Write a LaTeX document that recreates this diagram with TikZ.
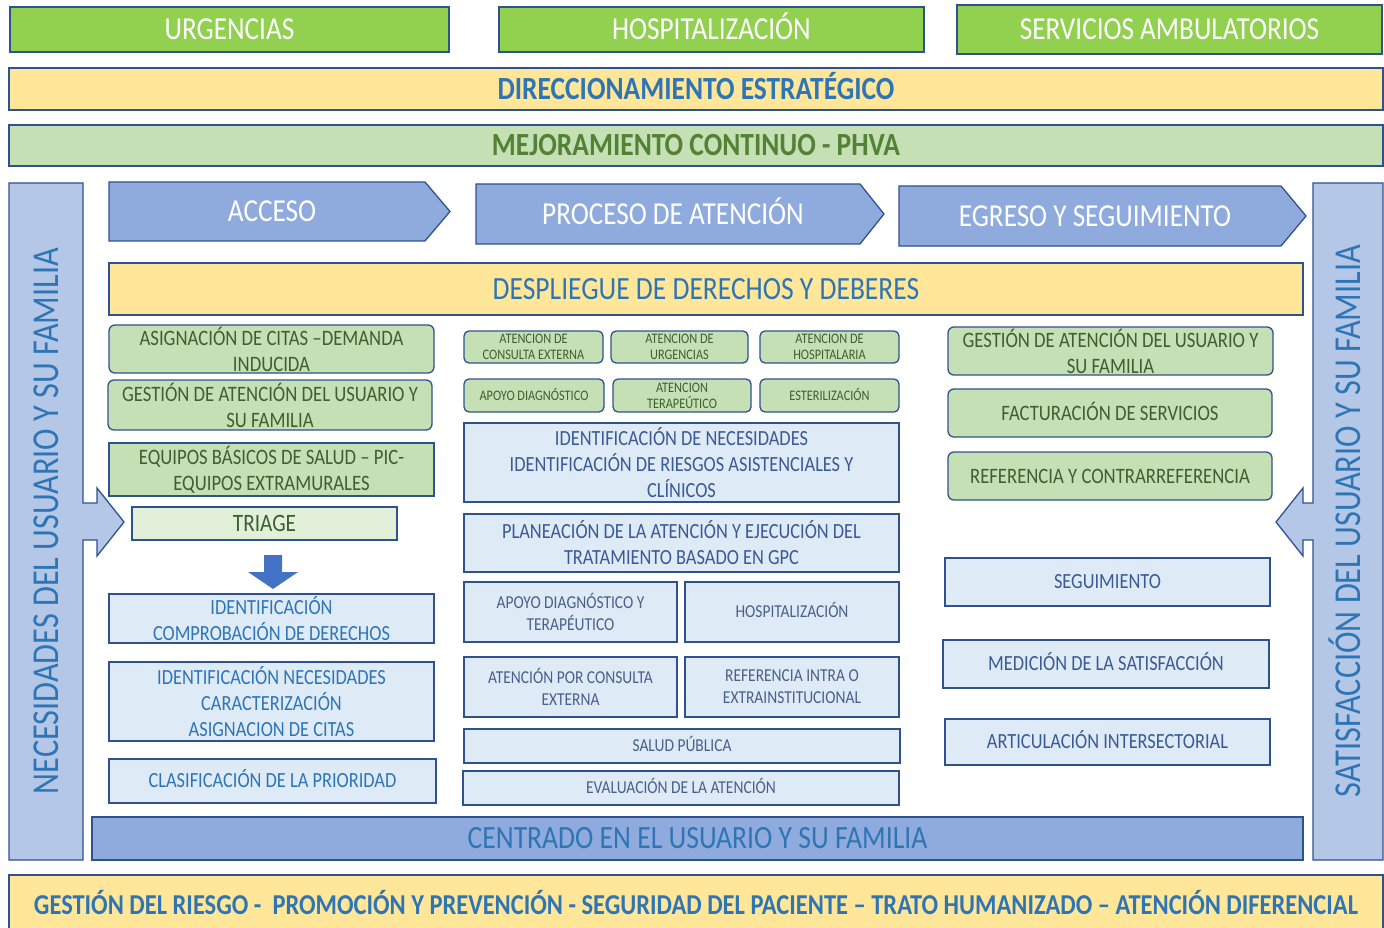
\documentclass[tikz,border=0pt]{standalone}
\usepackage{fontspec}
\setmainfont{Carlito}[FakeStretch=0.85]
\definecolor{verdefuerte}{HTML}{92D050}
\definecolor{verdesuave}{HTML}{C5E0B4}
\definecolor{verdepalido}{HTML}{E2F0D9}
\definecolor{amarillo}{HTML}{FFE699}
\definecolor{azulflecha}{HTML}{8FAADC}
\definecolor{azullateral}{HTML}{B4C7E7}
\definecolor{azulpalido}{HTML}{DEEBF7}
\definecolor{azulfuerte}{HTML}{4472C4}
\definecolor{borde}{HTML}{2F528F}
\definecolor{txtazul}{HTML}{2E75B6}
\definecolor{txtazuloscuro}{HTML}{3B5A94}
\definecolor{txtgris}{HTML}{4A5F8A}
\definecolor{txtverde}{HTML}{538135}
\definecolor{txtoliva}{HTML}{3F5F2F}
\tikzset{
  caja/.style={draw=borde, line width=1.3pt, inner sep=1pt, align=center},
  linea/.style={text height=#1, text depth=0pt},
  servicio/.style={caja, linea=20.6pt, fill=verdefuerte, text=white, font=\fontsize{32}{36}\selectfont},
  franja/.style={caja, linea=20.8pt, font=\bfseries\fontsize{32.3}{36}\selectfont},
  chevron/.style={draw=borde, line width=1.3pt, fill=azulflecha},
  txtchevron/.style={linea=20.6pt, text=white, font=\fontsize{32}{36}\selectfont},
  lateral/.style={draw=borde, line width=1.3pt, fill=azullateral},
  txtlateral/.style={linea=24.5pt, text=txtazul, rotate=90, font=\fontsize{38}{42}\selectfont},
  cajaverde/.style={caja, fill=verdesuave, text=txtoliva, rounded corners=6pt, font=\fontsize{22}{26}\selectfont},
  cajaazul/.style={caja, fill=azulpalido, text=txtazul, font=\fontsize{21.6}{26}\selectfont},
  cajamedia/.style={caja, fill=azulpalido, text=txtazuloscuro, font=\fontsize{21.6}{26}\selectfont},
  cajachica/.style={caja, fill=azulpalido, text=txtgris, font=\fontsize{18.2}{22}\selectfont},
  mini/.style={caja, fill=verdesuave, text=txtoliva, rounded corners=5pt, font=\fontsize{14.5}{16}\selectfont},
}
\begin{document}
\begin{tikzpicture}[x=1pt, y=-1pt]
    \useasboundingbox (0,0) rectangle (1384,928);
    % Servicios
    \node[servicio, minimum width=439, minimum height=45] (urgencias) at (229.5,29.5) {URGENCIAS};
    \node[servicio, minimum width=425, minimum height=45] (hospitalizacion) at (711.5,29.5) {HOSPITALIZACIÓN};
    \node[servicio, minimum width=425, minimum height=49] (ambulatorios) at (1169.5,29.5) {SERVICIOS AMBULATORIOS};
    % Franjas
    \node[franja, fill=amarillo, text=txtazul, minimum width=1374, minimum height=42] (direccion) at (696,89) {DIRECCIONAMIENTO ESTRATÉGICO};
    \node[franja, fill=verdesuave, text=txtverde, minimum width=1374, minimum height=41] (mejora) at (696,145.5) {MEJORAMIENTO CONTINUO - PHVA};
    % Laterales
    \draw[lateral] (9,183) -- (83,183) -- (83,503) -- (97,503) -- (97,488) -- (124,522) -- (97,556) -- (97,540) -- (83,540) -- (83,860) -- (9,860) -- cycle;
    \node[txtlateral] (necesidades) at (46,521) {NECESIDADES DEL USUARIO Y SU FAMILIA};
    \draw[lateral] (1313,183) -- (1383,183) -- (1383,860) -- (1313,860) -- (1313,540) -- (1303,540) -- (1303,556) -- (1276,522) -- (1303,488) -- (1303,503) -- (1313,503) -- cycle;
    \node[txtlateral] (satisfaccion) at (1348,521) {SATISFACCIÓN DEL USUARIO Y SU FAMILIA};
    % Etapas
    \draw[chevron] (109,182) -- (425,182) -- (450,211.5) -- (425,241) -- (109,241) -- cycle;
    \node[txtchevron] (acceso) at (272,211.5) {ACCESO};
    \draw[chevron] (476,184) -- (860,184) -- (884,214) -- (860,244) -- (476,244) -- cycle;
    \node[txtchevron] (proceso) at (673,214) {PROCESO DE ATENCIÓN};
    \draw[chevron] (899,186) -- (1281,186) -- (1306,216) -- (1281,246) -- (899,246) -- cycle;
    \node[txtchevron] (egreso) at (1095,216) {EGRESO Y SEGUIMIENTO};
    % Derechos
    \node[caja, linea=20.9pt, fill=amarillo, text=txtazul, font=\fontsize{32.4}{36}\selectfont, minimum width=1194, minimum height=52] (despliegue) at (706,289) {DESPLIEGUE DE DERECHOS Y DEBERES};
    % Acceso
    \node[cajaverde, minimum width=325, minimum height=48] (asignacion) at (271.5,349) {ASIGNACIÓN DE CITAS –DEMANDA\\INDUCIDA};
    \node[cajaverde, minimum width=324, minimum height=50] (gestionA) at (270,405) {GESTIÓN DE ATENCIÓN DEL USUARIO Y\\SU FAMILIA};
    \node[cajaverde, rounded corners=0pt, minimum width=325, minimum height=53] (equipos) at (271.5,469.5) {EQUIPOS BÁSICOS DE SALUD – PIC-\\EQUIPOS EXTRAMURALES};
    \node[caja, linea=16.1pt, fill=verdepalido, text=txtoliva, font=\fontsize{25}{30}\selectfont, minimum width=265, minimum height=33] (triage) at (264.5,523.5) {TRIAGE};
    \fill[azulfuerte] (264,555) -- (282,555) -- (282,572) -- (298,572) -- (273,589) -- (248,572) -- (264,572) -- cycle;
    \node[cajaazul, minimum width=325, minimum height=49] (identificacion) at (271.5,618.5) {IDENTIFICACIÓN\\COMPROBACIÓN DE DERECHOS};
    \node[cajaazul, minimum width=325, minimum height=79] (caracterizacion) at (271.5,701.5) {IDENTIFICACIÓN NECESIDADES\\CARACTERIZACIÓN\\ASIGNACION DE CITAS};
    \node[cajaazul, linea=13.9pt, minimum width=327, minimum height=44] (prioridad) at (272.5,781) {CLASIFICACIÓN DE LA PRIORIDAD};
    % Proceso de atencion
    \node[mini, minimum width=139, minimum height=32] (atConsulta) at (533.5,347) {ATENCION DE\\CONSULTA EXTERNA};
    \node[mini, minimum width=137, minimum height=32] (atUrgencias) at (679.5,347) {ATENCION DE\\URGENCIAS};
    \node[mini, minimum width=139, minimum height=32] (atHospital) at (829.5,347) {ATENCION DE\\HOSPITALARIA};
    \node[mini, linea=9.3pt, minimum width=140, minimum height=33] (apDiag) at (534,395.5) {APOYO DIAGNÓSTICO};
    \node[mini, minimum width=138, minimum height=33] (atTerap) at (682,395.5) {ATENCION\\TERAPEÚTICO};
    \node[mini, linea=9.3pt, minimum width=139, minimum height=33] (esteril) at (829.5,395.5) {ESTERILIZACIÓN};
    \node[cajamedia, minimum width=435, minimum height=79] (riesgos) at (681.5,462.5) {IDENTIFICACIÓN DE NECESIDADES\\IDENTIFICACIÓN DE RIESGOS ASISTENCIALES Y\\CLÍNICOS};
    \node[cajamedia, minimum width=435, minimum height=58] (planeacion) at (681.5,543) {PLANEACIÓN DE LA ATENCIÓN Y EJECUCIÓN DEL\\TRATAMIENTO BASADO EN GPC};
    \node[cajachica, minimum width=213, minimum height=60] (apoyo) at (570.5,612) {APOYO DIAGNÓSTICO Y\\TERAPÉUTICO};
    \node[cajachica, linea=11.7pt, minimum width=214, minimum height=60] (hospital) at (792,612) {HOSPITALIZACIÓN};
    \node[cajachica, minimum width=213, minimum height=60] (consulta) at (570.5,687) {ATENCIÓN POR CONSULTA\\EXTERNA};
    \node[cajachica, minimum width=214, minimum height=60] (referencia) at (792,687) {REFERENCIA INTRA O\\EXTRAINSTITUCIONAL};
    \node[cajachica, linea=11.7pt, minimum width=436, minimum height=34] (salud) at (682,746) {SALUD PÚBLICA};
    \node[cajachica, linea=11.7pt, minimum width=436, minimum height=34] (evaluacion) at (681,788) {EVALUACIÓN DE LA ATENCIÓN};
    % Egreso
    \node[cajaverde, minimum width=325, minimum height=48] (gestionB) at (1110.5,351) {GESTIÓN DE ATENCIÓN DEL USUARIO Y\\SU FAMILIA};
    \node[cajaverde, linea=14.2pt, minimum width=324, minimum height=48] (facturacion) at (1110,413) {FACTURACIÓN DE SERVICIOS};
    \node[cajaverde, linea=14.2pt, minimum width=324, minimum height=48] (contrarref) at (1110,476) {REFERENCIA Y CONTRARREFERENCIA};
    \node[cajamedia, linea=13.9pt, minimum width=325, minimum height=48] (seguimiento) at (1107.5,582) {SEGUIMIENTO};
    \node[cajamedia, linea=13.9pt, minimum width=326, minimum height=48] (medicion) at (1106,664) {MEDICIÓN DE LA SATISFACCIÓN};
    \node[cajamedia, linea=13.9pt, minimum width=325, minimum height=46] (articulacion) at (1107.5,742) {ARTICULACIÓN INTERSECTORIAL};
    % Base
    \node[caja, linea=20.9pt, fill=azulflecha, text=txtazul, font=\fontsize{32.5}{36}\selectfont, minimum width=1211, minimum height=43] (centrado) at (697.5,838.5) {CENTRADO EN EL USUARIO Y SU FAMILIA};
    \draw[draw=borde, line width=1.3pt, fill=amarillo] (9,875) rectangle (1383,940);
    \node[linea=18.5pt, text=txtazul, font=\bfseries\fontsize{28.8}{34}\selectfont] (transversal) at (696,905) {GESTIÓN DEL RIESGO -\ \ PROMOCIÓN Y PREVENCIÓN - SEGURIDAD DEL PACIENTE – TRATO HUMANIZADO – ATENCIÓN DIFERENCIAL};
\end{tikzpicture}
\end{document}
